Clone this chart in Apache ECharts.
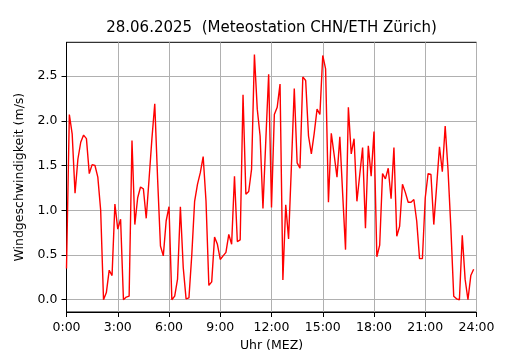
<!DOCTYPE html>
<html>
<head>
<meta charset="utf-8">
<script src="https://cdn.jsdelivr.net/npm/echarts@6/dist/echarts.min.js"></script>
<style>
html,body{margin:0;padding:0;background:#fff;}
#chart{width:530px;height:350px;}
</style>
</head>
<body>
<div id="chart"></div>
<script>
// Wind speed (m/s), one sample every 10 minutes starting 0:00
const stepMinutes = 10;
const windSpeed = [
  0.35, 2.07, 1.85, 1.19, 1.57, 1.76, 1.84, 1.80, 1.41, 1.51, 1.50, 1.37,
  1.00, 0.00, 0.08, 0.33, 0.27, 1.07, 0.79, 0.90, 0.00, 0.03, 0.04, 1.78,
  0.84, 1.14, 1.26, 1.24, 0.91, 1.35, 1.80, 2.19, 1.35, 0.60, 0.49, 0.88,
  1.04, 0.00, 0.04, 0.23, 1.04, 0.36, 0.01, 0.02, 0.50, 1.10, 1.29, 1.42,
  1.60, 1.10, 0.16, 0.20, 0.70, 0.62, 0.45, 0.49, 0.53, 0.73, 0.62, 1.38,
  0.65, 0.67, 2.29, 1.18, 1.21, 1.46, 2.74, 2.13, 1.83, 1.02, 1.78, 2.52,
  1.03, 2.07, 2.15, 2.41, 0.22, 1.06, 0.68, 1.50, 2.36, 1.53, 1.47, 2.49,
  2.45, 1.83, 1.63, 1.86, 2.13, 2.07, 2.73, 2.58, 1.09, 1.86, 1.62, 1.37,
  1.82, 1.18, 0.56, 2.15, 1.63, 1.80, 1.10, 1.40, 1.70, 0.80, 1.72, 1.38,
  1.88, 0.48, 0.61, 1.41, 1.35, 1.47, 1.13, 1.70, 0.71, 0.82, 1.29, 1.20,
  1.09, 1.09, 1.12, 0.88, 0.46, 0.46, 1.14, 1.41, 1.40, 0.84, 1.27, 1.71,
  1.43, 1.94, 1.45, 0.80, 0.04, 0.01, 0.00, 0.72, 0.23, 0.00, 0.27, 0.34
];
const xTickHours = [0, 3, 6, 9, 12, 15, 18, 21, 24];
const yTicks = [0.0, 0.5, 1.0, 1.5, 2.0, 2.5];
const titleText = '28.06.2025  (Meteostation CHN/ETH Zürich)';
const xName = 'Uhr (MEZ)';
const yName = 'Windgeschwindigkeit (m/s)';

const seriesData = windSpeed.map((v, i) => [i * stepMinutes / 60, v]);
const font = 'DejaVu Sans';

const chart = echarts.init(document.getElementById('chart'), null, {renderer: 'canvas'});
chart.setOption({
  animation: false,
  backgroundColor: '#ffffff',
  title: {
    text: titleText,
    left: 271.5,
    textAlign: 'center',
    top: 21,
    padding: 0,
    textStyle: {fontFamily: font, fontSize: 15, fontWeight: 'normal', color: '#000'}
  },
  grid: {
    left: 66.5, right: 53.5, top: 42.3, bottom: 38,
    outerBoundsMode: 'none', containLabel: false,
    show: true, borderColor: '#000', borderWidth: 1, backgroundColor: 'transparent'
  },
  xAxis: {
    type: 'value',
    min: 0, max: 24, interval: 3,
    name: xName, nameLocation: 'middle', nameGap: 26,
    nameTextStyle: {fontFamily: font, fontSize: 12.5, color: '#000'},
    axisLine: {show: true, onZero: false, lineStyle: {color: '#000', width: 1}},
    axisTick: {show: true, inside: false, length: 5, lineStyle: {color: '#000', width: 1},
      customValues: xTickHours},
    axisLabel: {customValues: xTickHours, margin: 9, fontFamily: font, fontSize: 12.5, color: '#000',
      formatter: v => Math.round(v) + ':00'},
    splitLine: {show: true, lineStyle: {color: '#b0b0b0', width: 1}}
  },
  yAxis: {
    type: 'value',
    min: -0.137, max: 2.877,
    name: yName, nameLocation: 'middle', nameGap: 33, nameRotate: 90,
    nameTextStyle: {fontFamily: font, fontSize: 12.5, color: '#000'},
    axisLine: {show: true, onZero: false, lineStyle: {color: '#000', width: 1}},
    axisTick: {show: true, inside: false, length: 5, lineStyle: {color: '#000', width: 1},
      customValues: yTicks},
    axisLabel: {customValues: yTicks, margin: 9, fontFamily: font, fontSize: 12.5, color: '#000',
      formatter: v => v.toFixed(1)},
    splitLine: {show: true, lineStyle: {color: '#b0b0b0', width: 1}}
  },
  series: [{
    type: 'line',
    data: seriesData,
    showSymbol: false,
    symbol: 'none',
    lineStyle: {color: '#ff0000', width: 1.4},
    itemStyle: {color: '#ff0000'}
  }]
});
</script>
</body>
</html>
